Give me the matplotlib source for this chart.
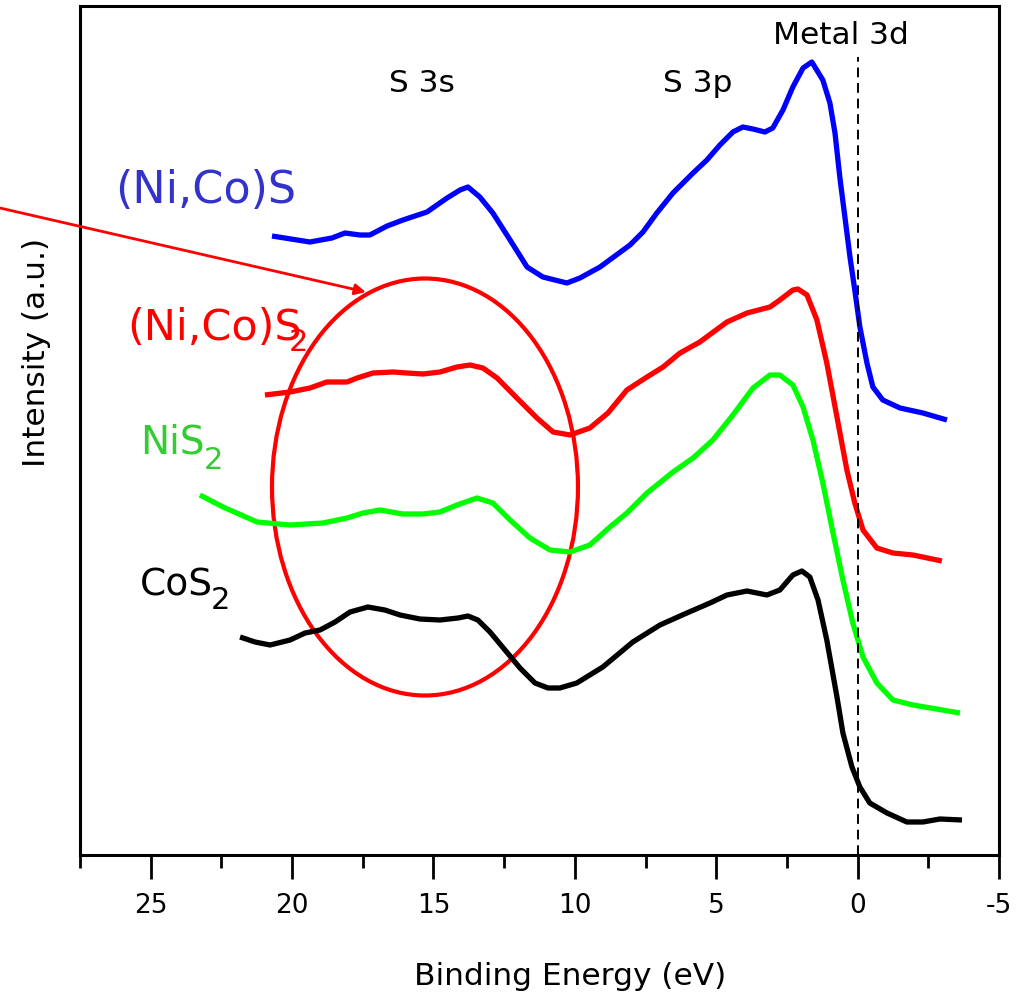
import matplotlib
matplotlib.use("Agg")
import matplotlib.pyplot as plt
from matplotlib.patches import Ellipse
from matplotlib.ticker import MultipleLocator

plt.rcParams['font.family'] = ['DejaVu Sans']

# Valence-band spectra: binding energy (eV) and offset intensity (a.u.)
nicos_be = [20.71, 19.37, 18.59, 18.13, 17.60, 17.25, 16.64, 16.08, 15.23, 14.52, 14.06, 13.78,
            13.36, 12.90, 12.29, 11.69, 11.13, 10.28, 9.82, 9.11, 8.05, 7.59, 7.10, 6.53, 5.82,
            5.33, 4.87, 4.41, 4.06, 3.70, 3.28, 3.00, 2.64, 2.29, 1.93, 1.62, 1.23, 0.98, 0.80,
            0.63, 0.45, 0.27, 0.10, -0.08, -0.33, -0.54, -0.89, -1.50, -2.31, -3.16]
nicos_int = [619, 613, 617, 622, 620, 620, 629, 635, 643, 657, 665, 668,
             658, 642, 615, 588, 578, 572, 577, 588, 610, 623, 642, 662, 682,
             695, 710, 723, 728, 726, 723, 727, 745, 768, 787, 793, 775, 752, 722,
             678, 638, 598, 565, 528, 492, 468, 455, 447, 442, 435]

nicos2_be = [20.96, 20.07, 19.37, 18.77, 18.06, 17.70, 17.14, 16.43, 15.94, 15.37, 14.77, 14.17,
             13.71, 13.25, 12.75, 12.05, 11.34, 10.77, 10.17, 9.47, 8.83, 8.16, 7.45, 6.88,
             6.28, 5.58, 4.62, 3.91, 3.10, 2.75, 2.29, 2.11, 1.79, 1.44, 1.09, 0.73, 0.38,
             0.10, -0.19, -0.68, -1.25, -1.96, -2.98]
nicos2_int = [460, 463, 467, 473, 473, 477, 482, 483, 482, 481, 483, 488,
              490, 487, 477, 457, 437, 423, 420, 427, 442, 465, 478, 488,
              502, 513, 533, 542, 548, 555, 565, 566, 560, 535, 492, 438, 385,
              352, 325, 307, 302, 300, 294]

nis2_be = [23.26, 22.44, 21.24, 20.07, 18.91, 18.06, 17.49, 16.89, 16.08, 15.37, 14.77, 14.17,
           13.46, 12.90, 12.29, 11.59, 10.88, 10.17, 9.47, 8.76, 8.16, 7.45, 6.53, 5.82, 5.12,
           4.41, 3.70, 3.10, 2.75, 2.29, 1.93, 1.58, 1.23, 0.87, 0.52, 0.17, -0.19, -0.68,
           -1.25, -1.96, -3.62]
nis2_int = [360, 348, 333, 330, 332, 337, 342, 345, 341, 341, 343, 350,
            357, 352, 335, 317, 305, 303, 310, 328, 342, 362, 383, 397, 415,
            440, 467, 480, 480, 470, 448, 415, 372, 322, 275, 232, 198, 172,
            155, 150, 142]

cos2_be = [21.84, 21.31, 20.78, 20.07, 19.54, 19.01, 18.48, 17.95, 17.32, 16.72, 16.18, 15.48,
           14.77, 14.13, 13.78, 13.43, 13.00, 12.47, 11.94, 11.41, 10.95, 10.53, 9.93, 9.01,
           7.95, 6.99, 6.04, 5.22, 4.62, 3.91, 3.21, 2.75, 2.29, 1.97, 1.69, 1.40, 1.09, 0.73,
           0.52, 0.20, -0.08, -0.43, -1.04, -1.74, -2.31, -2.91, -3.69]
cos2_int = [218, 213, 210, 215, 222, 225, 233, 243, 248, 245, 240, 236,
            235, 237, 239, 235, 223, 205, 187, 172, 167, 167, 172, 188,
            213, 230, 242, 252, 260, 264, 260, 265, 280, 284, 278, 255, 215, 158,
            122, 88, 68, 52, 42, 33, 33, 36, 35]

x_ticks = [25, 20, 15, 10, 5, 0, -5]

fig = plt.figure(figsize=(10.32, 9.97), dpi=100)
ax = fig.add_axes([80 / 1032, 142 / 997, 919 / 1032, 849 / 997])

lw = 3.8
style = dict(lw=lw, solid_joinstyle='round', solid_capstyle='butt')
ax.plot(nicos_be, nicos_int, color='#0000ff', **style)
ax.plot(nicos2_be, nicos2_int, color='#ff0000', **style)
ax.plot(nis2_be, nis2_int, color='#00ff00', **style)
ax.plot(cos2_be, cos2_int, color='#000000', **style)

# Fermi level marker
ax.plot([0, 0], [0, 798], color='black', lw=1.4, ls=(0, (5, 3)))

# Highlight of the S 3s region
ax.add_patch(Ellipse((15.30, 368), 10.82, 417, fill=False, edgecolor='#ff0000', lw=3.0))
ax.annotate('', xy=(17.39, 563), xytext=(30.33, 647),
            arrowprops=dict(arrowstyle='-|>', color='#ff0000', lw=2.0, mutation_scale=16,
                            shrinkA=0, shrinkB=0),
            annotation_clip=False)

# Sample labels
ax.text(26.26, 665, '(Ni,Co)S', color='#3333cc', fontsize=32, ha='left', va='center')
ax.text(25.84, 527, '(Ni,Co)S', color='#ff0000', fontsize=31, ha='left', va='center')
ax.text(19.79, 513, '2', color='#ff0000', fontsize=22, ha='center', va='center')
ax.text(25.37, 413, 'NiS', color='#33cc33', fontsize=28, ha='left', va='center')
ax.text(22.79, 395, '2', color='#33cc33', fontsize=22, ha='center', va='center')
ax.text(25.37, 270, 'CoS', color='black', fontsize=27, ha='left', va='center')
ax.text(22.55, 255, '2', color='black', fontsize=22, ha='center', va='center')

# Band assignments
ax.text(15.41, 772, 'S 3s', fontsize=22.5, ha='center', va='center')
ax.text(5.65, 772, 'S 3p', fontsize=22.5, ha='center', va='center')
ax.text(0.59, 820, 'Metal 3d', fontsize=22.5, ha='center', va='center')

ax.set_xlim(27.5, -5)
ax.set_ylim(0, 849)
ax.set_xticks(x_ticks)
ax.set_xticklabels([str(t) for t in x_ticks])
ax.xaxis.set_minor_locator(MultipleLocator(2.5))
ax.set_yticks([])
ax.tick_params(axis='x', which='major', direction='out', length=17, width=2, labelsize=19, pad=10)
ax.tick_params(axis='x', which='minor', direction='out', length=9, width=2)
for s in ax.spines.values():
    s.set_linewidth(2.2)

fig.text(570 / 1032, 1 - 976 / 997, 'Binding Energy (eV)', fontsize=22.5, ha='center', va='center')
fig.text(37 / 1032, 1 - 352 / 997, 'Intensity (a.u.)', fontsize=22.5, rotation=90,
         ha='center', va='center')

fig.savefig('out.png', dpi=100)
